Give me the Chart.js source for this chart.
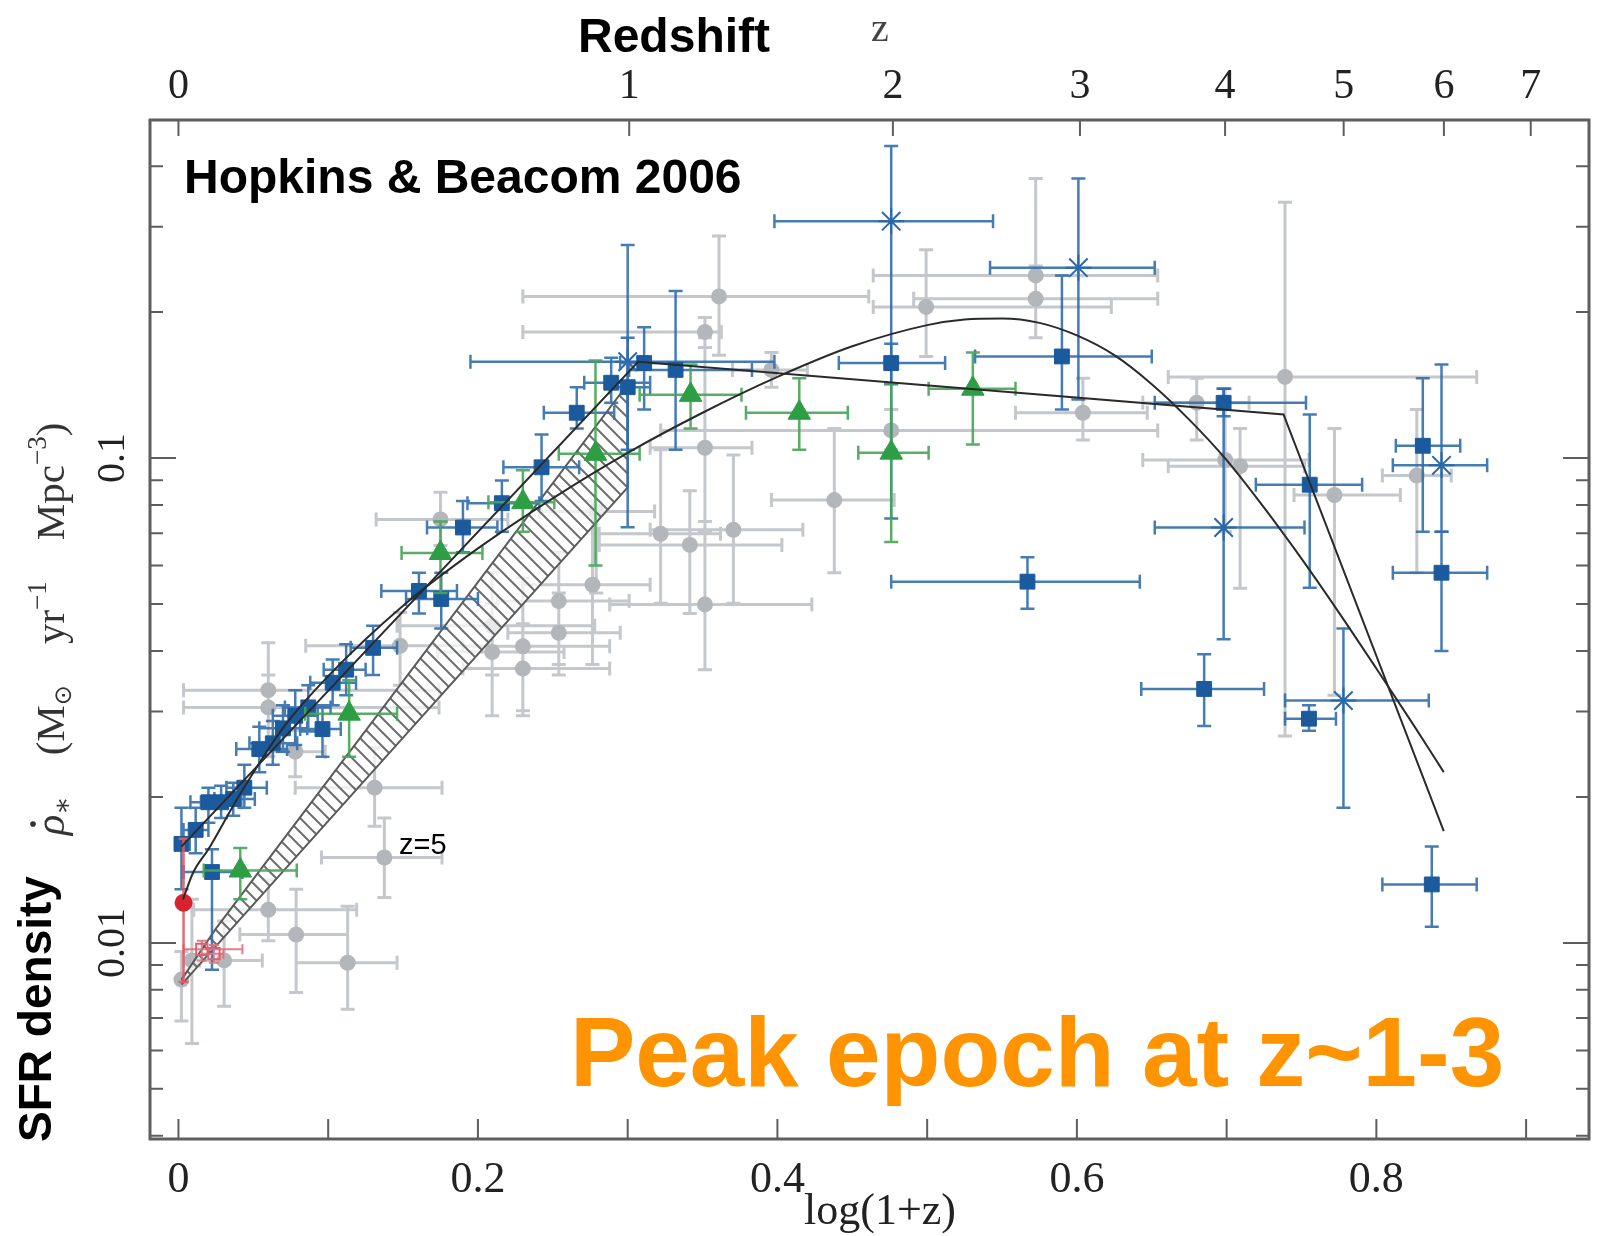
<!DOCTYPE html>
<html>
<head>
<meta charset="utf-8">
<script src="https://cdn.jsdelivr.net/npm/chart.js@4.4.1/dist/chart.umd.min.js"></script>
<style>
  html, body { margin: 0; padding: 0; background: #fff; }
  #wrap { width: 1604px; height: 1236px; }
</style>
</head>
<body>
<div id="wrap"><canvas id="sfr" width="1604" height="1236"></canvas></div>
<script>
// x = log(1+z), y = SFR density (Msun / yr / Mpc^3)
// every row: [x, y, xlo, xhi, ylo, yhi]
const grayPts = [
  [0.002, 0.0084, 0.0007, 0.0047, 0.0069, 0.0096],
  [0.009, 0.0092, 0.0034, 0.0142, 0.0062, 0.0123],
  [0.0305, 0.0092, 0.0102, 0.056, 0.0074, 0.0111],
  [0.060, 0.0117, 0.0102, 0.119, 0.0101, 0.0135],
  [0.0786, 0.0104, 0.041, 0.113, 0.0079, 0.0129],
  [0.113, 0.0091, 0.0786, 0.146, 0.0073, 0.0119],
  [0.1375, 0.0150, 0.0955, 0.176, 0.0124, 0.0181],
  [0.131, 0.0209, 0.078, 0.176, 0.0174, 0.0253],
  [0.060, 0.0332, 0.0034, 0.174, 0.0242, 0.0416],
  [0.060, 0.0306, 0.0034, 0.174, 0.0243, 0.0357],
  [0.078, 0.0248, 0.0576, 0.098, 0.022, 0.0274],
  [0.148, 0.041, 0.085, 0.207, 0.034, 0.048],
  [0.175, 0.0747, 0.132, 0.220, 0.066, 0.085],
  [0.2095, 0.0451, 0.146, 0.278, 0.0357, 0.058],
  [0.2095, 0.0398, 0.173, 0.2575, 0.0294, 0.0502],
  [0.230, 0.0409, 0.190, 0.288, 0.0301, 0.0566],
  [0.230, 0.0368, 0.190, 0.288, 0.0294, 0.0455],
  [0.254, 0.0507, 0.213, 0.301, 0.0375, 0.0639],
  [0.254, 0.0436, 0.220, 0.295, 0.0357, 0.0527],
  [0.2765, 0.0548, 0.230, 0.315, 0.0375, 0.0815],
  [0.279, 0.0776, 0.241, 0.318, 0.0527, 0.0967],
  [0.322, 0.0698, 0.281, 0.362, 0.0502, 0.104],
  [0.3415, 0.0662, 0.281, 0.403, 0.0478, 0.0856],
  [0.3516, 0.0499, 0.288, 0.423, 0.0366, 0.074],
  [0.3706, 0.0711, 0.315, 0.417, 0.0502, 0.1015],
  [0.3516, 0.105, 0.315, 0.383, 0.0705, 0.177],
  [0.3516, 0.182, 0.230, 0.3625, 0.169, 0.195],
  [0.361, 0.2155, 0.230, 0.461, 0.163, 0.287],
  [0.396, 0.152, 0.370, 0.420, 0.140, 0.165],
  [0.438, 0.0819, 0.396, 0.478, 0.058, 0.115],
  [0.476, 0.114, 0.322, 0.654, 0.104, 0.126],
  [0.4993, 0.205, 0.464, 0.623, 0.162, 0.269],
  [0.5725, 0.238, 0.464, 0.654, 0.177, 0.377],
  [0.5725, 0.213, 0.491, 0.654, 0.177, 0.249],
  [0.604, 0.124, 0.559, 0.647, 0.109, 0.146],
  [0.680, 0.130, 0.644, 0.715, 0.109, 0.146],
  [0.699, 0.0991, 0.644, 0.755, 0.0705, 0.139],
  [0.709, 0.0962, 0.661, 0.752, 0.0539, 0.115],
  [0.739, 0.147, 0.661, 0.867, 0.0267, 0.337],
  [0.772, 0.0839, 0.745, 0.816, 0.0324, 0.115],
  [0.827, 0.092, 0.804, 0.850, 0.058, 0.126]
];

const bluePts = [
  [0.002, 0.0160, 0.0007, 0.0075, 0.0129, 0.019],
  [0.0115, 0.0171, 0.0034, 0.020, 0.0153, 0.019],
  [0.020, 0.0195, 0.008, 0.032, 0.0177, 0.0209],
  [0.0285, 0.0195, 0.015, 0.042, 0.0181, 0.0211],
  [0.0366, 0.0198, 0.024, 0.051, 0.0183, 0.0214],
  [0.044, 0.0209, 0.032, 0.059, 0.019, 0.0233],
  [0.0224, 0.0140, 0.0034, 0.0427, 0.0088, 0.0156],
  [0.054, 0.0251, 0.0386, 0.0725, 0.0225, 0.0279],
  [0.063, 0.0258, 0.0474, 0.0793, 0.0233, 0.0287],
  [0.0698, 0.0277, 0.054, 0.086, 0.0248, 0.0309],
  [0.078, 0.0294, 0.063, 0.093, 0.0256, 0.0332],
  [0.0867, 0.0306, 0.0711, 0.1016, 0.0273, 0.034],
  [0.0962, 0.0276, 0.0813, 0.1084, 0.0242, 0.0309],
  [0.103, 0.0344, 0.088, 0.1186, 0.0309, 0.0384],
  [0.112, 0.0366, 0.097, 0.125, 0.0324, 0.0413],
  [0.130, 0.0406, 0.115, 0.146, 0.0357, 0.0451],
  [0.1606, 0.0532, 0.1355, 0.186, 0.0478, 0.058],
  [0.1755, 0.0512, 0.152, 0.200, 0.0445, 0.058],
  [0.190, 0.0719, 0.166, 0.213, 0.0639, 0.0815],
  [0.216, 0.0807, 0.193, 0.241, 0.0705, 0.0899],
  [0.2425, 0.0957, 0.217, 0.2676, 0.0815, 0.1118],
  [0.266, 0.124, 0.244, 0.291, 0.115, 0.140],
  [0.289, 0.143, 0.271, 0.315, 0.130, 0.161],
  [0.300, 0.140, 0.288, 0.315, 0.104, 0.177],
  [0.311, 0.157, 0.295, 0.332, 0.126, 0.186],
  [0.332, 0.152, 0.301, 0.383, 0.104, 0.221],
  [0.476, 0.157, 0.441, 0.512, 0.142, 0.172],
  [0.590, 0.162, 0.532, 0.650, 0.126, 0.238],
  [0.567, 0.0556, 0.476, 0.642, 0.0489, 0.0624],
  [0.698, 0.130, 0.652, 0.753, 0.122, 0.139],
  [0.7555, 0.0881, 0.7195, 0.7905, 0.054, 0.123],
  [0.685, 0.0334, 0.643, 0.725, 0.028, 0.0394],
  [0.755, 0.029, 0.739, 0.773, 0.0274, 0.0309],
  [0.831, 0.106, 0.813, 0.856, 0.0705, 0.146],
  [0.8435, 0.058, 0.811, 0.874, 0.040, 0.0705],
  [0.837, 0.0132, 0.804, 0.867, 0.0108, 0.0158]
];

const blueStars = [
  [0.300, 0.158, 0.195, 0.398, 0.072, 0.275],
  [0.476, 0.308, 0.398, 0.544, 0.075, 0.44],
  [0.601, 0.247, 0.542, 0.652, 0.132, 0.377],
  [0.698, 0.0719, 0.652, 0.752, 0.0423, 0.139],
  [0.8435, 0.0966, 0.811, 0.874, 0.0705, 0.156],
  [0.778, 0.0316, 0.739, 0.835, 0.019, 0.0445]
];

const greenPts = [
  [0.0413, 0.0141, 0.0169, 0.079, 0.0123, 0.0157],
  [0.114, 0.0297, 0.0847, 0.146, 0.0242, 0.0348],
  [0.175, 0.0637, 0.149, 0.203, 0.0527, 0.074],
  [0.230, 0.0811, 0.207, 0.251, 0.0705, 0.0944],
  [0.2785, 0.102, 0.254, 0.308, 0.060, 0.159],
  [0.342, 0.135, 0.308, 0.376, 0.115, 0.156],
  [0.4146, 0.124, 0.379, 0.447, 0.104, 0.146],
  [0.476, 0.1026, 0.454, 0.501, 0.0671, 0.1425],
  [0.5305, 0.139, 0.501, 0.559, 0.1066, 0.165]
];

const redPts = [
  [0.0034, 0.0121, 0.002, 0.0054, 0.0083, 0.0164]
];
const redOpen = [
  [0.0156, 0.0097, 0.0034, 0.0427, 0.0092, 0.0101],
  [0.0237, 0.0095, 0.0156, 0.030, 0.0091, 0.0099]
];

// smooth (Cole et al. form) fit
const coleX = [0.003, 0.01, 0.02, 0.04, 0.07, 0.10, 0.15, 0.20, 0.25, 0.30, 0.35, 0.40, 0.45, 0.50,
  0.525, 0.55, 0.575, 0.60, 0.625, 0.65, 0.675, 0.70, 0.725, 0.75, 0.775, 0.80, 0.825, 0.845];
const coleY = [0.0123, 0.0140, 0.0156, 0.0200, 0.0278, 0.0355, 0.0496, 0.0651, 0.0826, 0.1025, 0.124, 0.147, 0.170, 0.188,
  0.193, 0.194, 0.190, 0.179, 0.163, 0.142, 0.120, 0.099, 0.079, 0.062, 0.048, 0.0368, 0.0281, 0.0225];

// broken power law fit
const brokenX = [0.002, 0.307, 0.738, 0.845];
const brokenY = [0.0158, 0.158, 0.123, 0.0170];

// hatched band (outline, closed)
const bandX = [0.002, 0.025, 0.300, 0.300, 0.027, 0.002];
const bandY = [0.0084, 0.0107, 0.142, 0.087, 0.0100, 0.0082];

const xTickVals = [0, 0.1, 0.2, 0.3, 0.4, 0.5, 0.6, 0.7, 0.8, 0.9];
const zTicks = [0, 1, 2, 3, 4, 5, 6, 7];
const yLabelVals = [0.01, 0.1];

const X_MIN = -0.019, X_MAX = 0.942;
const Y_MIN = 0.00394, Y_MAX = 0.498;

const SERIF = "'Liberation Serif', 'DejaVu Serif', serif";
const SANS = "'Liberation Sans', Arial, sans-serif";

function pts(rows) {
  return rows.map(r => ({ x: r[0], y: r[1] }));
}
function xy(xs, ys) {
  return xs.map((v, i) => ({ x: v, y: ys[i] }));
}

// minor ticks on the log axis: 4..9 e-3, 1..9 e-2, 1..4 e-1
function logTicks() {
  const out = [];
  [0.001, 0.01, 0.1].forEach(dec => {
    for (let m = 1; m <= 9; m++) {
      const v = +(m * dec).toPrecision(3);
      if (v >= Y_MIN && v <= Y_MAX) out.push(v);
    }
  });
  return out;
}

function hatch() {
  const n = 14;
  const c = document.createElement('canvas');
  c.width = n; c.height = n;
  const g = c.getContext('2d');
  g.fillStyle = 'rgba(255,255,255,0.7)';
  g.fillRect(0, 0, n, n);
  g.strokeStyle = 'rgba(85,85,85,0.85)';
  g.lineWidth = 2;
  g.beginPath();
  g.moveTo(0, 0); g.lineTo(n, n);
  g.moveTo(-n / 2, n / 2); g.lineTo(n / 2, n * 1.5);
  g.moveTo(n / 2, -n / 2); g.lineTo(n * 1.5, n / 2);
  g.stroke();
  return g.createPattern(c, 'repeat');
}

// error bars, drawn just before each dataset's markers
const errorBars = {
  id: 'errorBars',
  beforeDatasetDraw(chart, args) {
    const ds = chart.data.datasets[args.index];
    if (!ds.rows) return;
    const xs = chart.scales.x, ys = chart.scales.y, c = chart.ctx, a = chart.chartArea;
    const cap = ds.capSize;
    c.save();
    c.beginPath();
    c.rect(a.left, a.top, a.right - a.left, a.bottom - a.top);
    c.clip();
    c.strokeStyle = ds.errColor;
    c.lineWidth = ds.errWidth;
    c.beginPath();
    ds.rows.forEach(r => {
      const px = xs.getPixelForValue(r[0]), py = ys.getPixelForValue(r[1]);
      const x0 = xs.getPixelForValue(r[2]), x1 = xs.getPixelForValue(r[3]);
      const y0 = ys.getPixelForValue(r[4]), y1 = ys.getPixelForValue(r[5]);
      c.moveTo(x0, py); c.lineTo(x1, py);
      c.moveTo(x0, py - cap); c.lineTo(x0, py + cap);
      c.moveTo(x1, py - cap); c.lineTo(x1, py + cap);
      c.moveTo(px, y0); c.lineTo(px, y1);
      c.moveTo(px - cap, y0); c.lineTo(px + cap, y0);
      c.moveTo(px - cap, y1); c.lineTo(px + cap, y1);
    });
    c.stroke();
    c.restore();
  }
};

function isDecade(v) {
  const l = Math.log10(v);
  return Math.abs(l - Math.round(l)) < 1e-6;
}

// draws a horizontal run of text pieces centred on 0
function richText(c, parts) {
  let w = 0;
  parts.forEach(p => { c.font = p.f; p.w = c.measureText(p.t).width; w += p.w; });
  let x = -w / 2;
  parts.forEach(p => {
    c.font = p.f;
    c.fillText(p.t, x, p.dy);
    if (p.dot) {
      c.beginPath();
      c.arc(x + p.w * 0.55, p.dy - 31, 2.8, 0, Math.PI * 2);
      c.fill();
    }
    x += p.w;
  });
}

// frame, inward ticks and all the loose text
const frame = {
  id: 'frame',
  afterDraw(chart) {
    const { ctx: c, chartArea: a, scales } = chart;
    c.save();
    c.strokeStyle = '#5e5e5e';
    c.lineWidth = 2;
    c.beginPath();
    scales.y.ticks.forEach(t => {
      const py = scales.y.getPixelForValue(t.value);
      const len = isDecade(t.value) ? 26 : 13;
      c.moveTo(a.left, py); c.lineTo(a.left + len, py);
      c.moveTo(a.right, py); c.lineTo(a.right - len, py);
    });
    scales.x.ticks.forEach(t => {
      const px = scales.x.getPixelForValue(t.value);
      c.moveTo(px, a.bottom); c.lineTo(px, a.bottom - 20);
    });
    scales.x2.ticks.forEach(t => {
      const px = scales.x2.getPixelForValue(t.value);
      c.moveTo(px, a.top); c.lineTo(px, a.top + 16);
    });
    c.stroke();
    c.lineWidth = 3;
    c.strokeRect(a.left, a.top, a.right - a.left, a.bottom - a.top);

    // rotated y tick labels
    c.fillStyle = '#222';
    c.font = '40px ' + SERIF;
    c.textAlign = 'center';
    c.textBaseline = 'alphabetic';
    yLabelVals.forEach(v => {
      const py = scales.y.getPixelForValue(v);
      c.save();
      c.translate(124, py);
      c.rotate(-Math.PI / 2);
      c.fillText(String(v), 0, 0);
      c.restore();
    });

    // y axis title
    c.save();
    c.translate(64, 629);
    c.rotate(-Math.PI / 2);
    c.fillStyle = '#333';
    c.textAlign = 'left';
    const big = '41px ' + SERIF, small = '27px ' + SERIF;
    richText(c, [
      { t: 'ρ', f: 'italic 43px ' + SERIF, dy: 0, dot: true },
      { t: '∗', f: small, dy: 7 },
      { t: '    (M', f: big, dy: 0 },
      { t: '⊙', f: "24px 'DejaVu Sans'", dy: 7 },
      { t: '    yr', f: big, dy: 0 },
      { t: '−1', f: small, dy: -18 },
      { t: '    Mpc', f: big, dy: 0 },
      { t: '−3', f: small, dy: -18 },
      { t: ')', f: big, dy: 0 }
    ]);
    c.restore();

    // SFR density
    c.save();
    c.translate(51, 1009);
    c.rotate(-Math.PI / 2);
    c.fillStyle = '#000';
    c.textAlign = 'center';
    c.font = 'bold 46px ' + SANS;
    c.fillText('SFR density', 0, 0);
    c.restore();

    c.textAlign = 'left';
    c.fillStyle = '#000';
    c.font = 'bold 48px ' + SANS;
    c.fillText('Redshift', 578, 52);
    c.fillText('Hopkins & Beacom 2006', 184, 193);

    c.fillStyle = '#444';
    c.font = '40px ' + SERIF;
    c.textAlign = 'center';
    c.fillText('z', 880, 41);

    c.fillStyle = '#222';
    c.font = '44px ' + SERIF;
    c.fillText('log(1+z)', 880, 1224);

    c.textAlign = 'left';
    c.fillStyle = '#000';
    c.font = '29px ' + SANS;
    c.fillText('z=5', 399, 854);

    c.fillStyle = '#ff9300';
    c.font = 'bold 98px ' + SANS;
    c.fillText('Peak epoch at z~1-3', 570, 1086);
    c.restore();
  }
};

const chart = new Chart(document.getElementById('sfr'), {
  type: 'scatter',
  data: {
    datasets: [
      {
        label: 'compilation', data: pts(grayPts), rows: grayPts,
        errColor: 'rgba(190,193,197,0.9)', errWidth: 3, capSize: 7,
        pointStyle: 'circle', pointRadius: 8, backgroundColor: '#b3b6ba', borderWidth: 0, order: 10
      },
      {
        type: 'line', label: 'band', data: xy(bandX, bandY), showLine: true, fill: 'shape',
        backgroundColor: hatch(), borderColor: '#5a5a5a', borderWidth: 2, pointRadius: 0, tension: 0, order: 9
      },
      {
        label: 'blue', data: pts(bluePts), rows: bluePts,
        errColor: 'rgba(50,110,172,0.9)', errWidth: 2.5, capSize: 7,
        pointStyle: 'rect', pointRadius: 10.5, backgroundColor: '#1c5a9e', borderColor: '#1c5a9e', borderWidth: 1, order: 6
      },
      {
        label: 'blue stars', data: pts(blueStars), rows: blueStars,
        errColor: 'rgba(50,110,172,0.9)', errWidth: 2.5, capSize: 7,
        pointStyle: 'star', pointRadius: 13, borderColor: '#2a68ac', borderWidth: 2, order: 6
      },
      {
        label: 'green', data: pts(greenPts), rows: greenPts,
        errColor: 'rgba(70,165,85,0.9)', errWidth: 2.5, capSize: 7,
        pointStyle: 'triangle', pointRadius: 13, backgroundColor: '#2e9e44', borderColor: '#2e9e44', borderWidth: 1, order: 5
      },
      {
        label: 'red', data: pts(redPts), rows: redPts,
        errColor: 'rgba(225,90,100,0.9)', errWidth: 2.5, capSize: 5,
        pointStyle: 'circle', pointRadius: 9, backgroundColor: '#d8232f', borderWidth: 0, order: 4
      },
      {
        label: 'red open', data: pts(redOpen), rows: redOpen,
        errColor: 'rgba(230,110,125,0.9)', errWidth: 2, capSize: 5,
        pointStyle: 'rect', pointRadius: 8, backgroundColor: 'rgba(0,0,0,0)', borderColor: '#e0606f', borderWidth: 2, order: 4
      },
      {
        type: 'line', label: 'Cole fit', data: xy(coleX, coleY), showLine: true, fill: false,
        borderColor: '#2a2a2a', borderWidth: 2, pointRadius: 0, cubicInterpolationMode: 'monotone', order: 1
      },
      {
        type: 'line', label: 'piecewise fit', data: xy(brokenX, brokenY), showLine: true, fill: false,
        borderColor: '#2a2a2a', borderWidth: 2, pointRadius: 0, tension: 0, order: 1
      }
    ]
  },
  options: {
    responsive: false,
    animation: false,
    devicePixelRatio: 1,
    layout: { padding: { left: 0, right: 3, top: 0, bottom: 0 } },
    plugins: { legend: { display: false }, tooltip: { enabled: false } },
    scales: {
      x: {
        type: 'linear', position: 'bottom', min: X_MIN, max: X_MAX,
        afterBuildTicks: s => { s.ticks = xTickVals.map(v => ({ value: v })); },
        afterFit: s => { s.height = 97; },
        grid: { display: false }, border: { display: false },
        ticks: {
          autoSkip: false, maxRotation: 0, padding: 7, color: '#222',
          font: { family: SERIF, size: 44 },
          callback: v => (Math.round(v * 10) % 2 === 0 ? (v === 0 ? '0' : v.toFixed(1)) : '')
        }
      },
      x2: {
        type: 'linear', position: 'top', min: X_MIN, max: X_MAX,
        afterBuildTicks: s => { s.ticks = zTicks.map(z => ({ value: Math.log10(1 + z) })); },
        afterFit: s => { s.height = 120; },
        grid: { display: false }, border: { display: false },
        ticks: {
          autoSkip: false, maxRotation: 0, padding: 0, color: '#222',
          font: { family: SERIF, size: 42 },
          callback: (v, i) => String(zTicks[i])
        }
      },
      y: {
        type: 'logarithmic', position: 'left', min: Y_MIN, max: Y_MAX,
        afterBuildTicks: s => { s.ticks = logTicks().map(v => ({ value: v })); },
        afterFit: s => { s.width = 150; },
        grid: { display: false }, border: { display: false },
        ticks: { display: false }
      }
    }
  },
  plugins: [errorBars, frame]
});
</script>
</body>
</html>
